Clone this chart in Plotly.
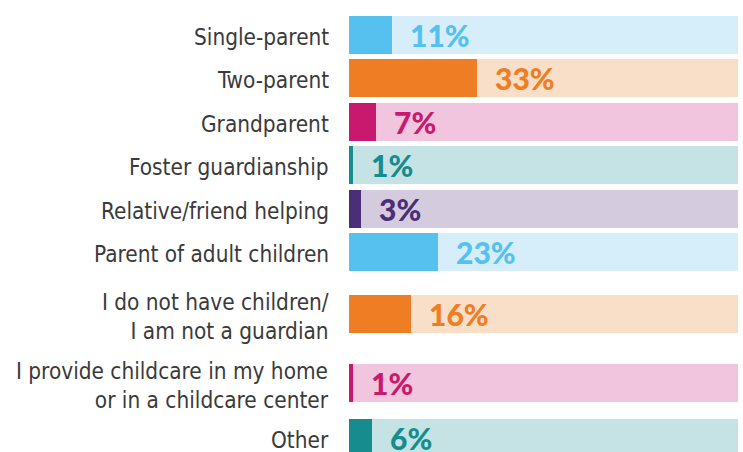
import plotly.graph_objects as go

categories = [
    "Single-parent",
    "Two-parent",
    "Grandparent",
    "Foster guardianship",
    "Relative/friend helping",
    "Parent of adult children",
    "I do not have children/<br>I am not a guardian",
    "I provide childcare in my home<br>or in a childcare center",
    "Other",
]
values = [11, 33, 7, 1, 3, 23, 16, 1, 6]
value_labels = ["11%", "33%", "7%", "1%", "3%", "23%", "16%", "1%", "6%"]
total = [100] * len(values)

# layout constants (pixel rows, colours)
row_y = [35, 78, 122, 165, 209, 252, 314, 383, 438]
fill_colors = ["#56C1EE", "#EE7D24", "#C9196E", "#178C8E", "#4A2F78",
               "#56C1EE", "#EE7D24", "#C9196E", "#178C8E"]
bg_colors = ["#D5EEF9", "#F9DFC8", "#F0C5DD", "#C5E3E5", "#D4CCDE",
             "#D5EEF9", "#F9DFC8", "#F0C5DD", "#C5E3E5"]
W, H = 743, 452
X0, X1 = 349 / W, 738 / W

fig = go.Figure()
fig.add_trace(go.Bar(x=total, y=row_y, orientation="h", width=38,
                     marker=dict(color=bg_colors, line=dict(width=0)),
                     hoverinfo="skip", showlegend=False))
fig.add_trace(go.Bar(x=values, y=row_y, orientation="h", width=38,
                     marker=dict(color=fill_colors, line=dict(width=0)),
                     showlegend=False))

for v, lab, yy, c in zip(values, value_labels, row_y, fill_colors):
    fig.add_annotation(x=v, y=yy, text=lab, showarrow=False,
                       xanchor="left", yanchor="middle", xshift=17, yshift=0,
                       borderpad=0,
                       font=dict(family="Lato", size=30, weight=900, color=c))

for cat, yy in zip(categories, row_y):
    fig.add_annotation(x=X0, xref="paper", y=yy, text=cat, showarrow=False,
                       xanchor="right", yanchor="middle", align="right",
                       xshift=-19, yshift=-2, borderpad=0,
                       font=dict(family="DejaVu Sans Condensed, DejaVu Sans",
                                 size=22.4, color="#3a3a3a"))

fig.update_layout(
    width=W, height=H,
    margin=dict(l=0, r=0, t=0, b=0),
    paper_bgcolor="white", plot_bgcolor="white",
    barmode="overlay", bargap=0,
    xaxis=dict(range=[0, 100], domain=[X0, X1], visible=False,
               fixedrange=True),
    yaxis=dict(range=[H, 0], domain=[0, 1], visible=False, fixedrange=True),
)

fig.write_html("out.html")
